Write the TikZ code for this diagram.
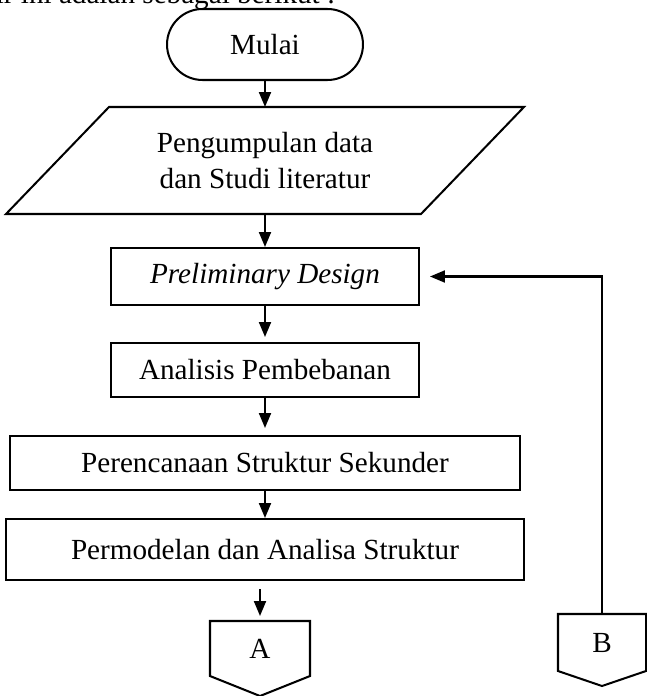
\documentclass[tikz,border=0pt]{standalone}
\usepackage{fontspec}
\setmainfont{Liberation Serif}
\usetikzlibrary{arrows.meta,positioning,calc}

\begin{document}
\begin{tikzpicture}[x=.02cm,y=-.02cm,>={Triangle[length=.3cm,width=.24cm]},line width=1.15pt,every node/.style={font=\fontsize{16.6}{20}\selectfont}]
\tikzstyle{box}=[draw,line width=1.15pt,align=center]
\tikzstyle{conn}=[inner sep=0pt]
\useasboundingbox (0,0) rectangle (646,696);
\node[anchor=base east] (intro) at (342,4) {ir ini adalah sebagai berikut :};
\node[box,rounded corners=.71cm,minimum width=3.92cm,minimum height=1.42cm] (mulai) at (265,44.5) {Mulai};
\node[align=center,minimum height=2.1cm] (data) at (265,160.5) {Pengumpulan data\\dan Studi literatur};
\draw ($(data.north)+(-156,0)$) -- ($(data.north)+(259,0)$) -- ($(data.south)+(156,0)$) -- ($(data.south)+(-259,0)$) -- cycle;
\node[box,minimum width=6.16cm,minimum height=1.14cm] (prelim) at (265,276.5) {\itshape Preliminary Design};
\node[box,minimum width=6.18cm,minimum height=1.08cm] (anal) at (265,370) {Analisis Pembebanan};
\node[box,minimum width=10.22cm,minimum height=1.08cm] (renc) at (265,463) {Perencanaan Struktur Sekunder};
\node[box,minimum width=10.36cm,minimum height=1.22cm] (model) at (265,549.5) {Permodelan dan Analisa Struktur};
\node[conn,minimum width=1.96cm,minimum height=1.06cm] (cA) at (260,648.5) {A};
\node[conn,minimum width=1.72cm,minimum height=1.1cm] (cB) at (602,642.5) {B};
\draw (cA.north west) -- (cA.north east) -- (cA.south east) -- ($(cA.south)+(0,20)$) -- (cA.south west) -- cycle;
\draw (cB.north west) -- (cB.north east) -- (cB.south east) -- ($(cB.south)+(0,15)$) -- (cB.south west) -- cycle;
\draw[->] (mulai) -- (data);
\draw[->] (data) -- (prelim);
\draw[->,shorten >=.1cm] (prelim) -- (anal);
\draw[->,shorten >=.14cm] (anal) -- (renc);
\draw[->] (renc) -- (model);
\draw[->,shorten <=.16cm,shorten >=.1cm] (model.south -| cA) -- (cA);
\draw[->,shorten >=.2cm] (cB) |- (prelim);
\end{tikzpicture}
\end{document}
